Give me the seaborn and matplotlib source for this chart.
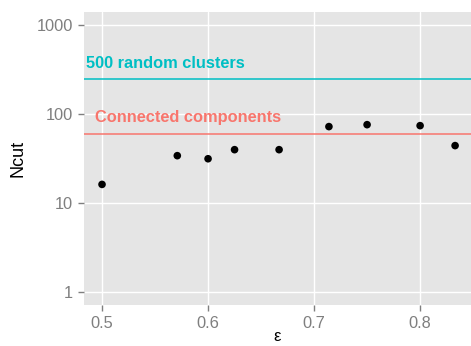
import numpy as np
import pandas as pd
import matplotlib
matplotlib.use("Agg")
import matplotlib.pyplot as plt
import seaborn as sns

# ----- data -----
epsilon = [0.5, 0.571, 0.6, 0.625, 0.667, 0.714, 0.75, 0.8, 0.833]
ncut = [16.1, 33.9, 31.3, 39.6, 39.6, 72, 75.7, 73.8, 44]

ref_names = ["500 random clusters", "Connected components"]
ref_values = [246, 60]
ref_colors = ["#00BFC4", "#F8766D"]
ref_label_x = [0.4846, 0.4934]
ref_label_y = [329, 81]

x_ticks = [0.5, 0.6, 0.7, 0.8]
y_ticks = [1, 10, 100, 1000]
y_ticklabels = ["1", "10", "100", "1000"]

sns.set_theme(style="darkgrid", rc={"axes.facecolor": "#E5E5E5",
                                    "grid.color": "white",
                                    "grid.linewidth": 1.0})
plt.rcParams["font.family"] = ["Liberation Sans", "DejaVu Sans"]

fig, ax = plt.subplots(figsize=(4.71, 3.46), dpi=100)
fig.subplots_adjust(left=84 / 471, right=1.0, top=1 - 12 / 346, bottom=1 - 304.7 / 346)

df = pd.DataFrame({"epsilon": epsilon, "Ncut": ncut})
sns.scatterplot(data=df, x="epsilon", y="Ncut", color="black", s=30,
                edgecolor="none", ax=ax, zorder=3)

# reference levels with their labels
for name, val, col, lx, ly in zip(ref_names, ref_values, ref_colors, ref_label_x, ref_label_y):
    ax.axhline(val, color=col, lw=1.1, zorder=2)
    ax.text(lx, ly, name, color=col, fontsize=11.8, fontweight="bold",
            ha="left", va="baseline", zorder=4)

ax.set_yscale("log")
ax.set_xlim(0.483, 0.848)
ax.set_ylim(10 ** -0.147, 10 ** 3.147)
ax.set_xticks(x_ticks)
ax.set_xticklabels([str(t) for t in x_ticks])
ax.set_yticks(y_ticks)
ax.set_yticklabels(y_ticklabels)
ax.yaxis.set_minor_locator(matplotlib.ticker.NullLocator())
ax.grid(True, which="major", color="white", lw=1.0)
for s in ax.spines.values():
    s.set_visible(False)

ax.tick_params(axis="both", which="major", colors="#7F7F7F", labelcolor="#7F7F7F",
               labelsize=11.8, length=4, width=1, pad=4, bottom=True, left=True)

ax.set_xlabel("ε", fontsize=12, color="black", labelpad=-1)
ax.set_ylabel("Ncut", fontsize=13, color="black", labelpad=7)

plt.savefig("out.png", dpi=100)
